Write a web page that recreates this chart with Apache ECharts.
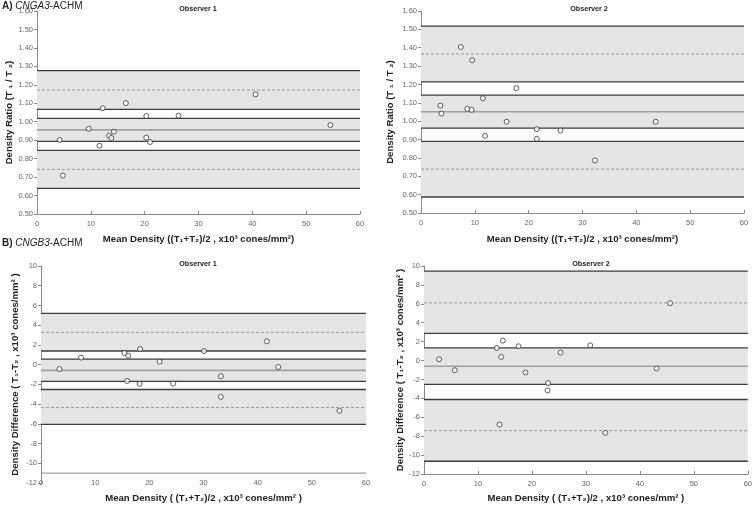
<!DOCTYPE html>
<html>
<head>
<meta charset="utf-8">
<script src="https://cdn.jsdelivr.net/npm/echarts@6/dist/echarts.min.js"></script>
<style>html,body{margin:0;padding:0;background:#fff;}#c{width:755px;height:507px;}</style>
</head>
<body>
<div id="c"></div>
<script>
// ---- Data ----
const xTicks = [0, 10, 20, 30, 40, 50, 60];
const ratioTicks = [0.5, 0.6, 0.7, 0.8, 0.9, 1.0, 1.1, 1.2, 1.3, 1.4, 1.5, 1.6];
const diffTicks = [-12, -10, -8, -6, -4, -2, 0, 2, 4, 6, 8, 10];

// Panel A, Observer 1
const a1X = [4.2, 4.8, 9.6, 11.6, 12.2, 13.4, 13.8, 14.3, 16.5, 20.3, 20.3, 21.0, 26.3, 40.6, 54.5];
const a1Y = [0.901, 0.708, 0.962, 0.870, 1.073, 0.924, 0.912, 0.946, 1.101, 0.914, 1.031, 0.890, 1.033, 1.148, 0.982];
const a1Bands = [[1.277, 1.067], [1.018, 0.894], [0.845, 0.639]];
const a1LoA = [1.172, 0.742];
const a1Mean = [0.956];

// Panel A, Observer 2
const a2X = [7.4, 9.5, 17.7, 11.5, 3.6, 3.8, 8.6, 9.4, 15.9, 11.9, 21.5, 21.5, 25.9, 32.3, 43.6];
const a2Y = [1.404, 1.332, 1.180, 1.125, 1.085, 1.042, 1.067, 1.062, 0.997, 0.920, 0.957, 0.904, 0.949, 0.786, 0.997];
const a2Bands = [[1.518, 1.214], [1.142, 0.962], [0.890, 0.587]];
const a2LoA = [1.366, 0.739];
const a2Mean = [1.051];

// Panel B, Observer 1
const b1X = [3.4, 7.4, 15.4, 16.1, 18.3, 15.9, 18.2, 21.9, 24.4, 30.1, 33.2, 33.2, 41.7, 43.8, 55.1];
const b1Y = [-0.44, 0.71, 1.18, 0.91, 1.58, -1.65, -1.95, 0.30, -1.92, 1.38, -1.18, -3.27, 2.36, -0.24, -4.68];
const b1Bands = [[5.19, 1.38], [0.55, -1.69], [-2.52, -6.06]];
const b1LoA = [3.27, -4.35];
const b1Mean = [-0.58];
const b1AxisCross = -11;

// Panel B, Observer 2
const b2X = [2.8, 5.7, 13.5, 14.6, 14.3, 14.0, 17.5, 18.8, 23.0, 22.9, 25.3, 30.8, 33.6, 43.1, 45.6];
const b2Y = [0.14, -1.02, 1.33, 2.11, 0.39, -6.77, 1.51, -1.26, -2.39, -3.16, 0.84, 1.61, -7.65, -0.84, 6.07];
const b2Bands = [[9.45, 2.88], [1.33, -2.52], [-4.12, -10.65]];
const b2LoA = [6.10, -7.42];
const b2Mean = [-0.60];

// ---- Build ----
const FONT = 'Liberation Sans, Arial, sans-serif';
const chart = echarts.init(document.getElementById('c'));

const grids = [
  {left: 37, right: 395, top: 11, bottom: 293},
  {left: 421, right: 11, top: 11, bottom: 294},
  {left: 41, right: 389, top: 266, bottom: 24},
  {left: 424, right: 7, top: 266, bottom: 33}
];

const panels = [
  {x: a1X, y: a1Y, bands: a1Bands, loa: a1LoA, mean: a1Mean, ticks: ratioTicks, type: 'A', yGap: 22, xGap: 20, xMargin: 6},
  {x: a2X, y: a2Y, bands: a2Bands, loa: a2LoA, mean: a2Mean, ticks: ratioTicks, type: 'A', yGap: 26, xGap: 21, xMargin: 6},
  {x: b1X, y: b1Y, bands: b1Bands, loa: b1LoA, mean: b1Mean, ticks: diffTicks, type: 'B1', yGap: 21, xGap: 10, xMargin: -4},
  {x: b2X, y: b2Y, bands: b2Bands, loa: b2LoA, mean: b2Mean, ticks: diffTicks, type: 'B', yGap: 19, xGap: 19, xMargin: 6}
];

const axisColor = '#8a8a8a';
const labelStyle = {color: '#666', fontSize: 7.5, fontFamily: FONT};
const titleStyle = {color: '#222', fontSize: 9.6, fontWeight: 'bold', fontFamily: FONT};

const xMin = xTicks[0], xMax = xTicks[xTicks.length - 1];
const xAxes = [], yAxes = [], series = [];

function hLine(i, v, style) {
  return {
    type: 'line', xAxisIndex: i, yAxisIndex: i, silent: true, symbol: 'none', showSymbol: false, z: 3,
    data: [[xMin, v], [xMax, v]], lineStyle: style, animation: false
  };
}

panels.forEach((p, i) => {
  const isA = p.type === 'A';
  const isB1 = p.type === 'B1';
  xAxes.push({
    gridIndex: i, type: 'value', min: xMin, max: xMax, interval: xTicks[1] - xTicks[0],
    splitLine: {show: false},
    axisLine: {show: !isB1, onZero: false, lineStyle: {color: axisColor, width: 1}},
    axisTick: {show: !isB1, length: 3, inside: true, lineStyle: {color: axisColor}},
    axisLabel: Object.assign({margin: p.xMargin}, labelStyle),
    name: isA ? 'Mean Density ((T\u2081+T\u2082)/2 , x10\u00b3 cones/mm\u00b2)' : 'Mean Density ( (T\u2081+T\u2082)/2 , x10\u00b3 cones/mm\u00b2 )',
    nameLocation: 'middle', nameGap: p.xGap, nameTextStyle: titleStyle
  });
  yAxes.push({
    gridIndex: i, type: 'value', position: 'left', min: p.ticks[0], max: p.ticks[p.ticks.length - 1],
    interval: isA ? 0.1 : 2,
    splitLine: {show: false},
    axisLine: {show: true, onZero: false, lineStyle: {color: axisColor, width: 1}},
    axisTick: {show: true, length: 3, lineStyle: {color: axisColor}},
    axisLabel: Object.assign({margin: 4, formatter: v => isA ? v.toFixed(2) : String(Math.round(v))}, labelStyle),
    name: isA ? 'Density Ratio (T \u2081 / T \u2082)' : 'Density Difference ( T\u2081-T\u2082 , x10\u00b3 cones/mm\u00b2 )',
    nameLocation: 'middle', nameGap: p.yGap, nameTextStyle: titleStyle
  });

  series.push({
    type: 'scatter', xAxisIndex: i, yAxisIndex: i,
    data: p.x.map((v, k) => [v, p.y[k]]),
    symbol: 'circle', symbolSize: 5,
    itemStyle: {color: '#fff', borderColor: '#383838', borderWidth: 1},
    z: 5,
    markArea: {silent: true, label: {show: false}, itemStyle: {color: '#e5e5e5'},
      data: p.bands.map(b => [{yAxis: b[0]}, {yAxis: b[1]}])}
  });
  const solid = {color: '#3c3c3c', width: 1.3, type: 'solid'};
  p.bands.forEach(b => { series.push(hLine(i, b[0], solid)); series.push(hLine(i, b[1], solid)); });
  p.loa.forEach(v => series.push(hLine(i, v, {color: '#999', width: 1, type: [3, 2]})));
  p.mean.forEach(v => series.push(hLine(i, v, {color: '#a0a0a0', width: 1.6, type: 'solid'})));
  if (isB1) series.push(hLine(i, b1AxisCross, {color: axisColor, width: 1, type: 'solid'}));
});

const sectionStyle = {fontSize: 10, fontFamily: FONT, color: '#222', fontWeight: 'normal',
  rich: {b: {fontWeight: 'bold', fontSize: 10, fontFamily: FONT, color: '#222'}, i: {fontStyle: 'italic', fontSize: 10, fontFamily: FONT, color: '#222'}}};
const obsStyle = {fontSize: 7.2, fontFamily: FONT, color: '#222', fontWeight: 'bold'};

chart.setOption({
  animation: false,
  title: [
    {text: '{b|A)} {i|CNGA3}-ACHM', left: 2, top: 1, padding: 0, textStyle: sectionStyle},
    {text: '{b|B)} {i|CNGB3}-ACHM', left: 2, top: 238, padding: 0, textStyle: sectionStyle},
    {text: 'Observer 1', left: 198, top: 6, padding: 0, textAlign: 'center', textStyle: obsStyle},
    {text: 'Observer 2', left: 589, top: 6, padding: 0, textAlign: 'center', textStyle: obsStyle},
    {text: 'Observer 1', left: 198, top: 261, padding: 0, textAlign: 'center', textStyle: obsStyle},
    {text: 'Observer 2', left: 591, top: 261, padding: 0, textAlign: 'center', textStyle: obsStyle}
  ],
  grid: grids,
  xAxis: xAxes,
  yAxis: yAxes,
  series: series
});
</script>
</body>
</html>
